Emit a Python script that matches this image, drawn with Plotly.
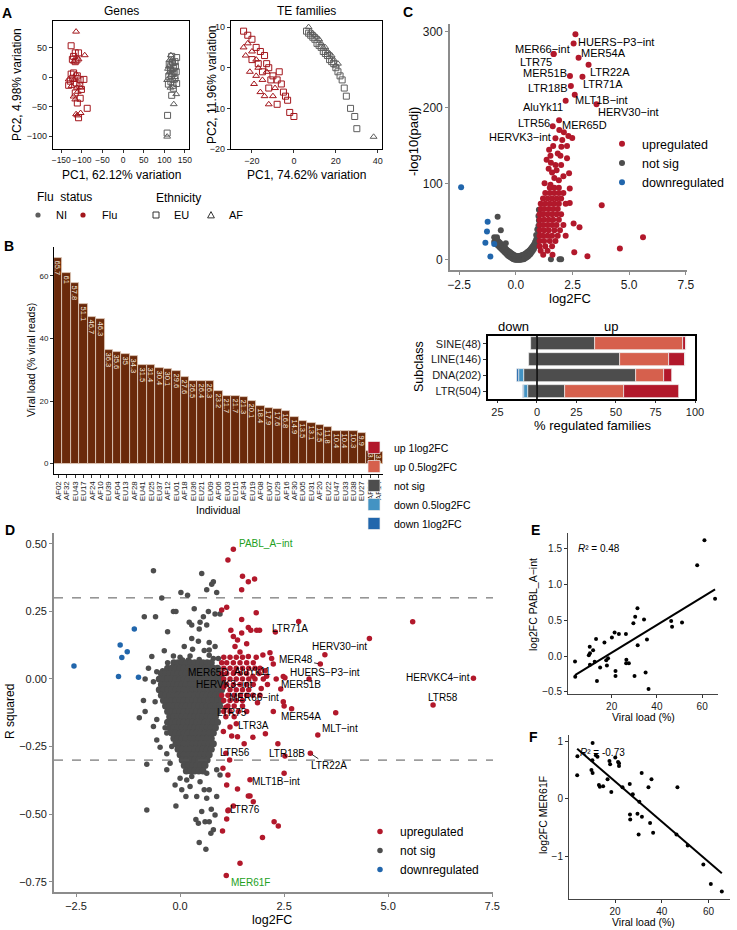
import numpy as np
import plotly.graph_objects as go

W, H = 737, 930
FONT = "Liberation Sans, Arial, sans-serif"

# ============================ DATA ============================
# ---- Panel A : PCA coordinates (PC1, PC2)
genes_flu_eu = [(-126,53),(-116,41),(-108,41),(-120,35),(-123,30),(-112,29),(-116,26),(-126,5),(-120,7),(-111,2),(-122,-2),(-128,-7),(-132,-14),(-104,-5),(-95,-4),(-114,-10),(-105,-14),(-116,-27),(-104,-36),(-87,-53),(-111,-44),(-108,-69),(-101,-21)]
genes_flu_af = [(-114,77),(-93,37),(-108,30),(-119,26),(-132,-4),(-112,-18),(-103,-18),(-120,-33),(-116,-38),(-114,-63),(-103,-61),(-111,-65),(-114,5),(-119,-5),(-125,-15),(-110,-25)]
genes_ni_eu = [(118,35),(130,33),(126,26),(116,20),(122,15),(115,12),(129,9),(121,6),(111,0.5),(126,-2),(116,-8),(130,-11),(121,-14),(122,-19),(118,-31),(108,-65),(107,-95),(120,25),(112,22),(124,10),(118,3),(127,18),(110,-12)]
genes_ni_af = [(116,37),(113,29),(122,23),(111,18),(116,3),(107,-5),(115,-18),(129,-29),(123,-46),(107,-101),(119,12),(124,-6),(112,8),(120,30),(109,14),(126,0)]

te_flu_eu = [(-24,9),(-22,8),(-20,7),(-18,5),(-16,4),(-14,3),(-13,1),(-12,0),(-15,-1),(-10,-2),(-8,-3),(-6,-4),(-12,-5),(-5,-6),(-3,-8),(-8,-9),(-2,-11),(0,-12),(-4,-7),(-17,1),(-11,-3),(-7,-1),(-20,2)]
te_flu_af = [(-22,6),(-20,4),(-23,3),(-18,2),(-17,0),(-21,-1),(-15,-3),(-19,-4),(-16,-6),(-14,-7),(-12,-9),(-24,5),(-13,-1),(-9,-5),(-18,-2),(-10,-7)]
te_ni_eu = [(6,9),(8,8),(10,7),(11,6),(13,5),(14,4),(16,3),(17,2),(19,1),(20,0),(22,-2),(23,-3),(24,-5),(25,-7),(27,-10),(29,-12),(30,-15),(9,7.5),(12,5.5),(15,3.5),(18,1.5),(21,-1),(7,8.5)]
te_ni_af = [(7,10),(9,8.5),(12,7),(15,5),(18,3),(21,1),(38,-17),(10,8),(13,6),(16,4),(19,2),(8,9),(11,7.5),(14,5),(17,3.5),(20,0.5)]

# ---- Panel B : viral load per individual
individuals = ["AF02","AF32","EU43","EU17","AF24","AF10","EU39","AF04","EU13","AF28","EU41","EU25","EU37","AF12","EU01","AF18","EU36","EU21","EU09","AF06","EU03","EU15","AF34","EU19","AF08","EU07","EU29","AF16","AF30","EU05","EU31","AF20","EU22","EU47","EU33","EU38","EU27","AF26","AF14"]
viral_load = [65.7,61,57.8,51.1,46.7,46.3,36.3,35.6,35,34.3,31.5,31.4,30.4,30.1,29.6,27.6,26.5,26.4,26.3,23.2,21.7,21.7,21.3,20.1,18.4,17.9,17.6,16.8,14.9,13.5,13.1,12.5,11.8,10.4,10.4,10.3,9.9,3.9,3.8]

# ---- Panels E / F : log2FC per individual (same order as individuals)
pabl_log2fc = [0.8,1.62,1.27,0.47,0.41,0.49,-0.46,0.23,-0.23,0.51,0.15,0.67,0.55,-0.28,0.46,-0.1,-0.05,-0.1,0.31,0.31,-0.21,-0.28,0.33,0.26,-0.03,-0.13,-0.06,0.19,-0.16,-0.35,0.24,-0.08,0.08,-0.12,0.04,0.13,0.01,-0.29,-0.075]
mer61f_log2fc = [-1.61,-1.48,-1.14,-0.81,0.2,-0.62,-0.59,0.34,-0.42,0.2,-0.31,0.45,-0.05,-0.62,-0.26,0.08,-0.36,-0.27,0.26,0.2,0.57,0.62,0.64,0.72,0.12,0.6,0.66,0.34,0.22,0.21,0.24,0.73,0.76,0.97,0.45,0.67,0.5,0.74,0.41]

# ---- Panel C : volcano (log2FC, -log10 padj)
C_gray = [(-0.95,24),(-0.95,30),(-0.9,22.5),(-0.9,28.5),(-0.85,21),(-0.85,27),(-0.8,19.5),(-0.8,25.5),(-0.75,18),(-0.75,24),(-0.7,16.5),(-0.7,22.5),(-0.65,15),(-0.65,21),(-0.6,13.5),(-0.6,19.5),(-0.55,12),(-0.55,18),(-0.5,10.5),(-0.5,16.5),(-0.45,9),(-0.45,15),(-0.4,7.5),(-0.4,13.5),(-0.35,6),(-0.35,12),(-0.3,5),(-0.3,11),(-0.25,4),(-0.25,10),(-0.2,3),(-0.2,9),(-0.15,2),(-0.15,8),(-0.1,1),(-0.1,7),(-0.05,0.5),(-0.05,6),(0.0,0.3),(0.0,5.5),(0.05,0.3),(0.05,5),(0.1,0.3),(0.1,5),(0.15,0.3),(0.15,5),(0.2,0.3),(0.2,5.5),(0.25,0.5),(0.25,6),(0.3,0.8),(0.3,6.5),(0.35,1),(0.35,7),(0.4,2),(0.4,8),(0.45,3),(0.45,9),(0.5,4),(0.5,10),(0.55,5),(0.55,11),(0.6,6.5),(0.6,12.5),(0.65,8),(0.65,14),(0.7,10),(0.7,16),(0.75,12),(0.75,18),(0.8,14.5),(0.8,20.5),(0.85,17.5),(0.85,23.5),(0.9,21),(0.9,27),(0.95,26),(0.95,32),(1.0,33),(1.0,39),(0.9,33),(0.95,40),(1.0,45),(1.02,52),(1.0,58),(1.02,66),(-0.8,57),(-0.66,39),(-0.83,30),(-0.44,22),(1.55,1),(1.93,1),(2.0,1)]
C_down = [(-2.41,95.6),(-1.24,50.4),(-1.27,37.3),(-1.34,22.8),(-0.95,21),(-1.12,4.4)]
C_up = [(2.32,163),(2.49,160.5),(2.01,149),(2.26,150),(1.47,145),(1.53,137),(1.36,132),(1.97,137),(2.0,125),(2.26,134),(2.35,114),(2.38,94),(1.53,99),(1.27,101),(2.38,75),(2.55,48),(2.81,43),(3.79,72),(5.61,30),(4.59,15),(3.16,5),(2.58,10),(1.21,7),(1.62,7),(1.45,120),(1.6,115),(1.8,118),(1.7,108),(1.9,105),(2.1,110),(1.55,128),(1.75,125),(1.85,140),(1.65,150),(2.05,158),(1.75,160),(2.63,297),(1.92,171),
        (1.5,95),(1.7,95),(1.9,95),(1.3,88),(1.5,88),(1.7,88),(1.9,88),(2.1,88),(1.2,81),(1.4,81),(1.6,81),(1.8,81),(2.0,81),(1.1,74),(1.3,74),(1.5,74),(1.7,74),(1.9,74),(2.2,74),(1.1,67),(1.25,67),(1.45,67),(1.65,67),(1.85,67),(1.05,60),(1.2,60),(1.4,60),(1.6,60),(1.8,60),(2.0,60),(1.05,53),(1.25,53),(1.45,53),(1.65,53),(1.9,53),(1.05,46),(1.2,46),(1.4,46),(1.6,46),(1.8,46),(2.1,46),(1.05,39),(1.25,39),(1.45,39),(1.7,39),(1.95,39),(1.05,32),(1.2,32),(1.4,32),(1.6,32),(1.85,32),(2.2,32),(1.05,25),(1.25,25),(1.5,25),(1.75,25),(1.05,18),(1.3,18),(1.6,18),(1.1,12),(1.4,12)]
C_label_names = ["LTR76","LTR3A","MER48","MLT\u2212int","LTR58","HERVKC4\u2212int","HUERS\u2212P3\u2212int","MER66\u2212int","LTR75","MER54A","LTR22A","MER51B","LTR71A","LTR18B","MLT1B\u2212int","AluYk11","HERV30\u2212int","LTR56","MER65D","HERVK3\u2212int"]
C_label_fc = [1.86,2.17,3.42,3.53,6.11,7.08,2.55,1.67,1.67,2.77,3.21,2.39,2.94,2.43,2.60,2.20,3.56,1.63,1.91,2.12]
C_label_p = [311.4,311.4,311.4,311.4,311.4,311.4,285,271,271,266,257,242,241,229,217.5,209.5,205,176,184,168]

# ---- Panel C : % regulated families per subclass
subclass = ["SINE(48)","LINE(146)","DNA(202)","LTR(504)"]
pct_up1 = [1.7,10.2,5.0,35.0]
pct_up05 = [55.9,31.0,17.9,37.3]
pct_ns_pos = [36.7,52.5,62.7,17.7]
pct_ns_neg = [-4.0,-4.9,-8.0,-5.7]
pct_down05 = [0,0,-3.4,-2.5]
pct_down1 = [0,0,-1.5,-0.5]

# ---- Panel D : log2FC vs R squared
D_gray = [(-0.64,0.40),(0.52,0.39),(0.80,0.36),(0.76,0.35),(0.64,0.33),(0.88,0.32),(0.02,0.32),(0.18,0.31),(-0.44,0.30),(0.34,0.26),(-0.16,0.25),(-0.10,0.25),(-0.86,0.23),(-0.59,0.23),(0.68,0.25),(0.84,0.24),(0.96,0.24),(0.56,0.23),(0.22,0.21),(0.28,0.20),(0.48,0.21),(0.64,0.20),(-0.30,0.175),(0.46,0.185),(0.28,0.15),(0.44,0.14),(0.70,0.135),(0.10,0.12),(0.30,0.11),(0.58,0.105),(0.70,0.107),(0.84,0.12),(-0.68,0.083),(-0.38,0.104),(-0.16,0.085),(0.0,0.08),(0.06,0.07),(0.2,0.07),(0.24,0.085),(0.46,0.072),(0.7,0.088),(0.8,0.076),(0.92,0.076),
          (-0.3,0.06),(-0.42,0.03),(-0.56,0.027),(-0.76,0.04),(-0.84,0.0),(-0.64,-0.01),(-0.88,-0.08),(-0.6,-0.084),(-0.98,-0.143),(-0.84,-0.12),(-0.56,-0.15),(-0.36,-0.18),(-0.64,-0.176),(-0.8,-0.315),(-0.8,-0.485),(-0.48,-0.253),(-0.32,-0.277),(-0.2,-0.25),(-0.12,-0.392),(-0.1,-0.47),(0.14,-0.435),(0.4,-0.435),(0.44,-0.534),(0.46,-0.605),(0.62,-0.63),(0.52,-0.49),(0.38,-0.52),(0.6,-0.528),(0.7,-0.528),(0.75,-0.482),(0.84,-0.503),(0.8,-0.558),(0.74,-0.571),(0.88,-0.435),(0.64,-0.441),(0.24,-0.398),(0.48,-0.38),(0.58,-0.41),(0.7,-0.41),(0.04,-0.41),(0.16,-0.374),(0.28,-0.361),(0.64,-0.349),(0.88,-0.336),(0.96,-0.355),(-0.32,-0.336),(-0.24,-0.312),(0.0,-0.367),(-0.56,-0.226),(-0.32,-0.2)]
D_gray_core = [
    (0.06, [-0.15,-0.05,0.05,0.15,0.25,0.35,0.45,0.55,0.65,0.75]),
    (0.04, [-0.3,-0.2,-0.1,0.0,0.1,0.2,0.3,0.4,0.5,0.6,0.7,0.8,0.9]),
    (0.02, [-0.45,-0.35,-0.25,-0.15,-0.05,0.05,0.15,0.25,0.35,0.45,0.55,0.65,0.75,0.85,0.95]),
    (0.00, [-0.5,-0.4,-0.3,-0.2,-0.1,0.0,0.1,0.2,0.3,0.4,0.5,0.6,0.7,0.8,0.9,1.0]),
    (-0.02, [-0.45,-0.35,-0.25,-0.15,-0.05,0.05,0.15,0.25,0.35,0.45,0.55,0.65,0.75,0.85,0.95,1.05]),
    (-0.04, [-0.5,-0.4,-0.3,-0.2,-0.1,0.0,0.1,0.2,0.3,0.4,0.5,0.6,0.7,0.8,0.9,1.0]),
    (-0.06, [-0.45,-0.35,-0.25,-0.15,-0.05,0.05,0.15,0.25,0.35,0.45,0.55,0.65,0.75,0.85,0.95]),
    (-0.08, [-0.4,-0.3,-0.2,-0.1,0.0,0.1,0.2,0.3,0.4,0.5,0.6,0.7,0.8,0.9,1.0]),
    (-0.10, [-0.35,-0.25,-0.15,-0.05,0.05,0.15,0.25,0.35,0.45,0.55,0.65,0.75,0.85,0.95]),
    (-0.12, [-0.3,-0.2,-0.1,0.0,0.1,0.2,0.3,0.4,0.5,0.6,0.7,0.8,0.9]),
    (-0.14, [-0.25,-0.15,-0.05,0.05,0.15,0.25,0.35,0.45,0.55,0.65,0.75,0.85]),
    (-0.16, [-0.3,-0.2,-0.1,0.0,0.1,0.2,0.3,0.4,0.5,0.6,0.7,0.8,0.9]),
    (-0.18, [-0.25,-0.15,-0.05,0.05,0.15,0.25,0.35,0.45,0.55,0.65,0.75,0.85]),
    (-0.20, [-0.2,-0.1,0.0,0.1,0.2,0.3,0.4,0.5,0.6,0.7,0.8]),
    (-0.22, [-0.15,-0.05,0.05,0.15,0.25,0.35,0.45,0.55,0.65,0.75]),
    (-0.24, [-0.1,0.0,0.1,0.2,0.3,0.4,0.5,0.6,0.7,0.8]),
    (-0.26, [-0.05,0.05,0.15,0.25,0.35,0.45,0.55,0.65,0.75]),
    (-0.28, [0.0,0.1,0.2,0.3,0.4,0.5,0.6,0.7]),
    (-0.30, [0.05,0.15,0.25,0.35,0.45,0.55,0.65]),
    (-0.32, [0.1,0.2,0.3,0.4,0.5,0.6]),
    (-0.34, [0.15,0.25,0.35,0.45,0.55]),
]
D_down = [(-2.55,0.048),(-1.48,0.009),(-1.0,0.006),(-1.4,0.079),(-1.27,0.101),(-1.44,0.126),(-1.1,0.185)]
D_up = [(1.15,0.44),(1.5,0.38),(1.64,0.36),(1.79,0.37),(1.48,0.33),(1.0,0.255),(1.12,0.265),(1.83,0.245),(1.48,0.22),(2.85,0.213),(1.22,0.18),(1.64,0.19),(1.7,0.18),(1.84,0.18),(1.91,0.18),(1.28,0.157),(1.38,0.144),(1.48,0.17),(1.6,0.13),(4.55,0.15),(5.59,0.212),(1.32,0.12),(1.44,0.1),(1.64,0.083),(1.83,0.08),(1.99,0.089),(2.16,0.097),(2.2,0.076),(2.24,0.055),(2.48,0.009),(2.52,0.005),(2.31,0.0),(2.48,-0.084),(2.5,-0.1),(2.24,-0.12),(3.74,-0.125),
        (1.75,-0.216),(2.35,-0.24),(2.5,-0.349),(1.68,-0.433),(1.76,-0.454),(2.26,-0.528),(2.36,-0.544),(1.98,-0.586),(1.35,-0.166),(1.2,-0.178),(1.04,-0.194),(1.24,-0.211),(1.38,-0.214),(1.54,-0.24),(1.1,-0.275),(1.03,-0.33),(1.15,-0.355),(1.12,-0.392),(1.38,-0.407),(1.64,-0.433),(1.28,-0.47),(1.16,-0.485),(1.12,-0.518),(1.02,-0.562),(1.44,-0.682),
        (1.92,0.04),(2.04,0.03),(2.0,0.0),(2.1,-0.02),(1.95,-0.035),(2.08,0.01),(1.86,-0.088),
        (1.05,0.08),(1.2,0.08),(1.35,0.08),(1.5,0.08),(1.0,0.06),(1.12,0.06),(1.28,0.06),(1.44,0.06),(1.6,0.06),(1.76,0.06),(1.05,0.04),(1.2,0.04),(1.35,0.04),(1.5,0.04),(1.65,0.04),(1.8,0.04),(1.0,0.02),(1.12,0.02),(1.28,0.02),(1.44,0.02),(1.6,0.02),(1.9,0.02),(1.05,0.0),(1.2,0.0),(1.35,0.0),(1.5,0.0),(1.65,0.0),(1.8,0.0),(1.12,-0.02),(1.28,-0.02),(1.44,-0.02),(1.6,-0.02),(1.76,-0.02),(1.2,-0.04),(1.35,-0.04),(1.5,-0.04),(1.65,-0.04),(1.0,-0.06),(1.15,-0.06),(1.3,-0.06),(1.45,-0.06),(1.6,-0.06),(1.75,-0.06),(1.05,-0.08),(1.2,-0.08),(1.35,-0.08),(1.5,-0.08),(1.15,-0.1),(1.3,-0.1),(1.5,-0.1),(1.05,-0.12),(1.2,-0.12),(1.4,-0.12),(1.6,-0.12),(1.1,-0.14),(1.3,-0.14)]
D_label_names = ["PABL_A\u2212int","MER61F","LTR71A","HERV30\u2212int","MER48","HUERS\u2212P3\u2212int","MER51B","MER54A","MLT\u2212int","LTR3A","LTR18B","LTR22A","MLT1B\u2212int","LTR76","LTR56","LTR75","MER66\u2212int","HERVK3\u2212int","MER65D","AluYk11","LTR58","HERVKC4\u2212int"]
D_label_fc = [1.28,1.11,2.29,3.48,3.37,3.10,2.42,2.68,3.31,2.05,2.52,3.13,1.68,1.15,1.19,1.10,1.92,1.05,1.30,1.75,6.08,7.05]
D_label_r2 = [0.48,-0.727,0.174,0.09,0.055,0.0,-0.037,-0.11,-0.207,-0.203,-0.285,-0.275,-0.373,-0.487,-0.30,-0.105,-0.06,-0.03,0.025,0.01,-0.096,0.003]

# ============================ STYLE / LAYOUT HELPERS ============================
RED_A, GRAY_A = "#A3161C", "#5E5E5E"
UP, NS, DOWN = "#B2182B", "#4D4D4D", "#2166AC"
UP05, DOWN05 = "#D6604D", "#4393C3"
BROWN = "#6A2A0B"
GREEN = "#22A022"


def xd(a, b):
    return [a / W, b / W]


def yd(top, bot):
    return [1 - bot / H, 1 - top / H]


def px(x):
    return x / W


def py(y):
    return 1 - y / H


def axis(**kw):
    base = dict(showgrid=False, zeroline=False, ticks="outside", ticklen=3, tickwidth=1,
                tickcolor="#333", showline=True, linewidth=1, linecolor="black", tickangle=0,
                tickfont=dict(size=9, color="#1a1a1a", family=FONT))
    base.update(kw)
    return base


def unz(pts):
    return [p[0] for p in pts], [p[1] for p in pts]


fig = go.Figure()

# ---------------- Panel A ----------------
for ax_id, sets in [("", [(genes_ni_eu, GRAY_A, "square-open"), (genes_ni_af, GRAY_A, "triangle-up-open"),
                          (genes_flu_eu, RED_A, "square-open"), (genes_flu_af, RED_A, "triangle-up-open")]),
                    ("2", [(te_ni_eu, GRAY_A, "square-open"), (te_ni_af, GRAY_A, "triangle-up-open"),
                           (te_flu_eu, RED_A, "square-open"), (te_flu_af, RED_A, "triangle-up-open")])]:
    for pts, col, sym in sets:
        x, y = unz(pts)
        fig.add_trace(go.Scatter(x=x, y=y, mode="markers", showlegend=False,
                                 marker=dict(symbol=sym, size=6, color=col, line=dict(width=1, color=col)),
                                 xaxis="x" + ax_id, yaxis="y" + ax_id))

# ---------------- Panel B ----------------
fig.add_trace(go.Bar(x=individuals, y=viral_load, text=[f"{v:g}" for v in viral_load],
                     textposition="inside", insidetextanchor="end", textangle=90, constraintext="none",
                     textfont=dict(size=7.5, color="#f4e8de", family=FONT),
                     marker=dict(color=BROWN, line=dict(color="#e2cfc0", width=0.8)),
                     width=1, showlegend=False, xaxis="x3", yaxis="y3"))

# ---------------- Panel C volcano ----------------
gx, gy = unz(C_gray)
fig.add_trace(go.Scatter(x=gx, y=gy, mode="markers", name="not sig", legend="legend", legendrank=2,
                         marker=dict(size=6, color=NS), xaxis="x4", yaxis="y4", cliponaxis=False))
bx, by = unz(C_down)
fig.add_trace(go.Scatter(x=bx, y=by, mode="markers", name="downregulated", legend="legend", legendrank=3,
                         marker=dict(size=6, color=DOWN), xaxis="x4", yaxis="y4", cliponaxis=False))
rx, ry = unz(C_up)
fig.add_trace(go.Scatter(x=rx + C_label_fc, y=ry + C_label_p, mode="markers", name="upregulated",
                         legend="legend", legendrank=1,
                         marker=dict(size=6, color=UP), xaxis="x4", yaxis="y4", cliponaxis=False))

# ---------------- Panel C stacked bars ----------------
bar_specs = [("not sig", pct_ns_pos, NS, 3, True), ("not sig", pct_ns_neg, NS, 3, False),
             ("up 0.5log2FC", pct_up05, UP05, 2, True), ("down 0.5log2FC", pct_down05, DOWN05, 4, True),
             ("up 1log2FC", pct_up1, UP, 1, True), ("down 1log2FC", pct_down1, DOWN, 5, True)]
for name, vals, col, rank, show in bar_specs:
    fig.add_trace(go.Bar(y=subclass, x=vals, orientation="h", name=name, legend="legend3",
                         legendrank=rank, showlegend=show, width=0.82,
                         marker=dict(color=col, line=dict(color="#eeeeee", width=0.7)),
                         xaxis="x5", yaxis="y5"))

# ---------------- Panel D ----------------
dgx, dgy = unz(D_gray)
fig.add_trace(go.Scatter(x=dgx, y=dgy, mode="markers", name="not sig", legend="legend2", legendrank=2,
                         marker=dict(size=5.5, color=NS), xaxis="x6", yaxis="y6"))
cgx, cgy = [], []
for yrow, xs in D_gray_core:
    cgx += xs
    cgy += [yrow] * len(xs)
fig.add_trace(go.Scatter(x=cgx, y=cgy, mode="markers", showlegend=False,
                         marker=dict(size=7, color=NS), xaxis="x6", yaxis="y6"))
dbx, dby = unz(D_down)
fig.add_trace(go.Scatter(x=dbx, y=dby, mode="markers", name="downregulated", legend="legend2", legendrank=3,
                         marker=dict(size=5.5, color=DOWN), xaxis="x6", yaxis="y6"))
drx, dry = unz(D_up)
fig.add_trace(go.Scatter(x=drx + D_label_fc, y=dry + D_label_r2, mode="markers", name="upregulated",
                         legend="legend2", legendrank=1,
                         marker=dict(size=5.5, color=UP), xaxis="x6", yaxis="y6"))

# ---------------- Panels E / F ----------------
for ax_id, yvals in [("7", pabl_log2fc), ("8", mer61f_log2fc)]:
    fig.add_trace(go.Scatter(x=viral_load, y=yvals, mode="markers", showlegend=False,
                             marker=dict(size=4, color="black"), xaxis="x" + ax_id, yaxis="y" + ax_id))
    slope, icpt = np.polyfit(viral_load, yvals, 1)
    xl = [min(viral_load), max(viral_load)]
    fig.add_trace(go.Scatter(x=xl, y=[slope * v + icpt for v in xl], mode="lines", showlegend=False,
                             line=dict(color="black", width=2), xaxis="x" + ax_id, yaxis="y" + ax_id))

# ============================ AXES ============================
A_box = dict(mirror=True, linewidth=1.2, linecolor="black")
TF = lambda s: dict(size=s, color="#1a1a1a", family=FONT)
lay = dict(
    xaxis=axis(domain=xd(53, 189), range=[-170, 160], tickvals=[-150, -100, -50, 0, 50, 100, 150], anchor="y",
               tickfont=TF(8.5), **A_box),
    yaxis=axis(domain=yd(21, 149), range=[-122, 95], tickvals=[-100, -50, 0, 50], anchor="x", **A_box),
    xaxis2=axis(domain=xd(231, 382), range=[-30, 42], tickvals=[-20, 0, 20, 40], anchor="y2", **A_box),
    yaxis2=axis(domain=yd(21, 149), range=[-20, 11.5], tickvals=[-20, -10, 0, 10], anchor="x2", **A_box),
    xaxis3=axis(domain=xd(54, 383), range=[-0.5, 38.5], tickangle=-90, anchor="y3",
                tickmode="array", tickvals=individuals, ticktext=individuals, tickfont=TF(8)),
    yaxis3=axis(domain=yd(247, 474), range=[-3.3, 69.2], tickvals=[0, 20, 40, 60], anchor="x3", tickfont=TF(8)),
    xaxis4=axis(domain=xd(450, 687), range=[-2.9, 7.55], tickvals=[-2.5, 0, 2.5, 5, 7.5], tickformat=".1f",
                anchor="y4", linecolor="#8c8c8c", linewidth=1.6, tickcolor="#8c8c8c", tickfont=TF(12)),
    yaxis4=axis(domain=yd(24, 270), range=[-13.2, 310.5], tickvals=[0, 100, 200, 300], anchor="x4",
                linecolor="#8c8c8c", linewidth=1.6, tickcolor="#8c8c8c", tickfont=TF(12)),
    xaxis5=axis(domain=xd(488, 695), range=[-31, 100], tickvals=[-25, 0, 25, 50, 75, 100],
                ticktext=["25", "0", "25", "50", "75", "100"], anchor="y5", mirror=True, linewidth=1.5,
                ticklen=2, tickfont=TF(11)),
    yaxis5=axis(domain=yd(336, 399), autorange="reversed", type="category", anchor="x5", mirror=True,
                linewidth=1.5, tickfont=TF(11)),
    xaxis6=axis(domain=xd(54, 493), range=[-3.03, 7.52], tickvals=[-2.5, 0, 2.5, 5, 7.5], tickformat=".1f",
                anchor="y6", linecolor="#8c8c8c", linewidth=1.6, tickcolor="#8c8c8c", tickfont=TF(11)),
    yaxis6=axis(domain=yd(533, 892), range=[-0.788, 0.54], tickvals=[-0.75, -0.5, -0.25, 0, 0.25, 0.5],
                tickformat=".2f", anchor="x6", linecolor="#8c8c8c", linewidth=1.6, tickcolor="#8c8c8c",
                tickfont=TF(11)),
    xaxis7=axis(domain=xd(568, 718), range=[0.7, 67], tickvals=[20, 40, 60], anchor="y7", linecolor="#444",
                tickfont=TF(10)),
    yaxis7=axis(domain=yd(533, 694), range=[-0.53, 1.72], tickvals=[-0.5, 0, 0.5, 1, 1.5], tickformat=".1f",
                anchor="x7", linecolor="#444", tickfont=TF(10)),
    xaxis8=axis(domain=xd(569, 730), range=[0.3, 69.2], tickvals=[20, 40, 60], anchor="y8", linecolor="#444",
                tickfont=TF(10)),
    yaxis8=axis(domain=yd(735, 899), range=[-1.74, 1.11], tickvals=[-1, 0, 1], anchor="x8", linecolor="#444",
                tickfont=TF(10)),
)

# ============================ ANNOTATIONS ============================
ann = []


def txt(text, x, y, size=12, angle=0, xanchor="center", color="black", bold=False):
    t = f"<b>{text}</b>" if bold else text
    ann.append(dict(text=t, x=px(x), y=py(y), xref="paper", yref="paper", showarrow=False,
                    xanchor=xanchor, yanchor="middle", textangle=angle,
                    font=dict(size=size, color=color, family=FONT)))


# panel letters
for L, x, y in [("A", 7, 13), ("B", 9, 246), ("C", 408, 12), ("D", 10, 530), ("E", 535, 530), ("F", 533, 737)]:
    txt(L, x, y, size=14, bold=True)

# panel A titles / axis titles
txt("Genes", 121, 11, 12)
txt("TE families", 306, 11, 12)
txt("PC2, 4.98% variation", 17, 85, 12, angle=-90)
txt("PC1, 62.12% variation", 121, 175, 12)
txt("PC2, 11.96% variation", 212, 85, 12, angle=-90)
txt("PC1, 74.62% variation", 306, 175, 12)
# panel A legend (text); keys drawn as shapes below
txt("Flu  status", 35, 197, 12, xanchor="left")
txt("Ethnicity", 154, 198, 12, xanchor="left")
txt("NI", 54, 215, 11, xanchor="left")
txt("Flu", 100, 215, 11, xanchor="left")
txt("EU", 172, 215, 11, xanchor="left")
txt("AF", 227, 215, 11, xanchor="left")

# panel B
txt("Viral load (% viral reads)", 31, 360, 10.5, angle=-90)
txt("Individual", 218, 510, 10.5)

# panel C
txt("-log10(padj)", 413, 142, 13, angle=-90)
txt("log2FC", 570, 298, 13)
txt("Subclass", 419, 367, 12.5, angle=-90)
txt("% regulated families", 593, 426, 13)
txt("down", 513, 326, 13)
txt("up", 611, 326, 13)

C_label_shift = [(-14, 6.6), (-13.3, -7.7), (19.7, -6.7), (15.3, 7.3), (7, 9), (20, -11.7), (42.5, 1.3),
                 (-11.5, 5), (-17.7, -7.7), (25.3, 4.4), (21, -7), (-25.3, 2.7), (20.3, -7.6), (-23.3, -1.6),
                 (27, -5.3), (-23, -6), (32, -7.4), (-18.3, 3.3), (25.7, -5), (-43.6, -5)]
for name, xv, yv, (sx, sy) in zip(C_label_names, C_label_fc, C_label_p, C_label_shift):
    ann.append(dict(text=name, x=xv, y=yv, xref="x4", yref="y4", showarrow=False, xshift=sx, yshift=sy,
                    font=dict(size=11, color="black", family=FONT)))

# panel D
txt("R squared", 10, 712, 12, angle=-90)
txt("log2FC", 272, 920, 12.5)
D_label_shift = [(32.4, 5.3), (24, -6.6), (14.7, 3), (14.3, 8), None, (16, 6.3), (20.3, 4), (9.7, -7.3),
                 (21.8, 6), (-12.3, 8), (2, 2.7), None, (26, -1.7), (17.3, 1.4), (5.7, 7.7), (6.2, -5.3),
                 (-5.9, -2.5), (0.3, 2.1), (-26.1, 0.2), (-0.8, 4.3), (9.7, 7.3), (-35.3, 0.3)]
D_label_arrow = {"MER48": (-24.7, -5), "LTR22A": (18.3, 12.4)}
for name, xv, yv, sh in zip(D_label_names, D_label_fc, D_label_r2, D_label_shift):
    col = GREEN if name in ("PABL_A\u2212int", "MER61F") else "black"
    key = name.replace("\u2212", "-")
    if sh is None:
        ax_, ay_ = D_label_arrow[key]
        ann.append(dict(text=name, x=xv, y=yv, xref="x6", yref="y6", showarrow=True, arrowhead=0,
                        arrowwidth=0.8, arrowcolor="black", ax=ax_, ay=ay_, standoff=2,
                        font=dict(size=10, color=col, family=FONT)))
    else:
        ann.append(dict(text=name, x=xv, y=yv, xref="x6", yref="y6", showarrow=False,
                        xshift=sh[0], yshift=sh[1], font=dict(size=10, color=col, family=FONT)))

# panels E / F
txt("log2FC PABL_A\u2212int", 533, 605, 10.5, angle=-90)
txt("Viral load (%)", 643, 717, 10.5)
txt("<i>R</i>\u00b2 = 0.48", 576, 548, 10, xanchor="left")
txt("log2FC MER61F", 543, 815, 10.5, angle=-90)
txt("Viral load (%)", 643, 922, 10.5)
txt("<i>R</i>\u00b2 = -0.73", 578, 752, 10, xanchor="left")

# ============================ SHAPES ============================
shapes = [
    dict(type="line", xref="x6 domain", yref="y6", x0=0, x1=1, y0=0.3, y1=0.3,
         line=dict(color="#555", width=1, dash="dash")),
    dict(type="line", xref="x6 domain", yref="y6", x0=0, x1=1, y0=-0.3, y1=-0.3,
         line=dict(color="#555", width=1, dash="dash")),
    dict(type="line", xref="x5", yref="y5 domain", x0=0, x1=0, y0=0, y1=1,
         line=dict(color="black", width=1.6)),
]


# legend keys for panel A (paper-pixel helpers)
def key_circle(cx, cy, r, col):
    shapes.append(dict(type="circle", xref="paper", yref="paper", x0=px(cx - r), x1=px(cx + r),
                       y0=py(cy + r), y1=py(cy - r), fillcolor=col, line=dict(color=col, width=0)))


def key_square(cx, cy, s):
    shapes.append(dict(type="rect", xref="paper", yref="paper", x0=px(cx - s), x1=px(cx + s),
                       y0=py(cy + s), y1=py(cy - s), line=dict(color="#333", width=1)))


def key_triangle(cx, cy, s):
    path = (f"M {px(cx - s)} {py(cy + s * 0.85)} L {px(cx + s)} {py(cy + s * 0.85)} "
            f"L {px(cx)} {py(cy - s)} Z")
    shapes.append(dict(type="path", xref="paper", yref="paper", path=path, line=dict(color="#333", width=1)))


key_circle(38, 215, 2.6, GRAY_A)
key_circle(83, 215, 2.6, RED_A)
key_square(156, 215, 3)
key_triangle(211, 215, 3.4)

leg_common = dict(bgcolor="rgba(0,0,0,0)", borderwidth=0, xanchor="left", yanchor="top",
                  tracegroupgap=0, itemclick=False, itemdoubleclick=False)
fig.update_layout(
    width=W, height=H, margin=dict(l=0, r=0, t=0, b=0, autoexpand=False),
    paper_bgcolor="white", plot_bgcolor="white",
    font=dict(family=FONT, color="black"),
    barmode="relative", bargap=0,
    uniformtext=dict(minsize=7, mode="show"),
    annotations=ann, shapes=shapes,
    legend=dict(x=px(602), y=py(129), font=dict(size=12.5, family=FONT), **leg_common),
    legend2=dict(x=px(360), y=py(817), font=dict(size=12, family=FONT), **leg_common),
    legend3=dict(x=px(354), y=py(433), font=dict(size=10.5, family=FONT), **leg_common),
    **lay,
)

fig.write_html("out.html", config={"displayModeBar": False},
               post_script="document.body.style.margin='0px';document.body.style.overflow='hidden';")
